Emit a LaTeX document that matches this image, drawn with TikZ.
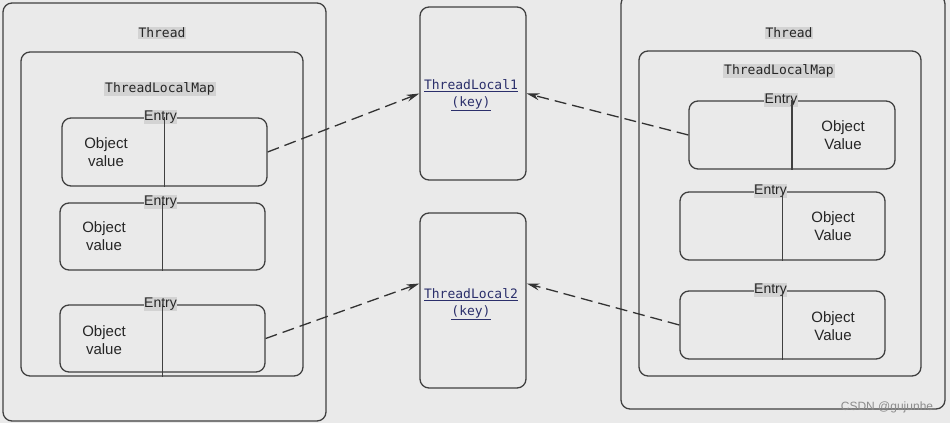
\documentclass[tikz,border=0pt]{standalone}
\usepackage{fontspec}
\setmainfont{Liberation Sans}
\setmonofont{DejaVu Sans Mono}
\definecolor{bggray}{HTML}{EAEAEA}
\definecolor{edgegray}{HTML}{404040}
\definecolor{markgray}{HTML}{D3D3D3}
\definecolor{keynavy}{HTML}{2B2F6B}
\usetikzlibrary{arrows.meta,positioning}

\begin{document}
\begin{tikzpicture}[x=1pt, y=-1pt,
  box/.style={rectangle, draw=edgegray, line width=1.3pt, rounded corners=9pt, inner sep=0pt},
  tag/.style={font=\ttfamily\fontsize{13}{15}\selectfont, fill=markgray, inner sep=1pt, text=black!85},
  entrytag/.style={font=\fontsize{14}{16}\selectfont, fill=markgray, inner sep=0.6pt, text=black!85},
  val/.style={font=\fontsize{15}{18}\selectfont, align=center, text=black!85},
  keytxt/.style={font=\ttfamily\fontsize{13}{17}\selectfont, align=center, text=keynavy},
  ref/.style={dash pattern=on 12pt off 6pt, line width=1.3pt, draw=black!80, -{Stealth[length=13pt,width=7pt]}}]
\fill[bggray] (0,0) rectangle (950,423);
\useasboundingbox (0,0) rectangle (950,423);

% left thread
\node[box, minimum width=323pt, minimum height=418pt] (thrL) at (164.5,212) {};
\node[tag] (thrLt) at (162,33) {Thread};
\node[box, minimum width=282pt, minimum height=324pt] (mapL) at (162,214) {};
\node[tag] (mapLt) at (160,89) {ThreadLocalMap};
\node[box, minimum width=205pt, minimum height=68pt] (entL1) at (164.5,152) {};
\node[box, minimum width=205pt, minimum height=67pt] (entL2) at (162.5,236.5) {};
\node[box, minimum width=205pt, minimum height=67pt] (entL3) at (162.5,338.5) {};
\node[entrytag, xshift=-4pt] (entL1t) at (entL1.north) {Entry};
\node[entrytag, xshift=-2pt] (entL2t) at (entL2.north) {Entry};
\node[entrytag, xshift=-2pt] (entL3t) at (entL3.north) {Entry};
\draw[edgegray, line width=1.3pt] (entL1.north) -- (entL1.south);
\draw[edgegray, line width=1.3pt] (entL2.north) -- (entL2.south);
\draw[edgegray, line width=1.3pt] (entL3.north) -- (mapL.south -| entL3.south);
\node[val] (valL1) at (106,152) {Object\\value};
\node[val] (valL2) at (104,236) {Object\\value};
\node[val] (valL3) at (104,340) {Object\\value};

% keys
\node[box, minimum width=106pt, minimum height=173pt] (tlA) at (473,93.5) {};
\node[box, minimum width=106pt, minimum height=175pt] (tlB) at (473,300.5) {};
\node[keytxt] (tlAt) at (471,95) {\underline{ThreadLocal1}\\\underline{(key)}};
\node[keytxt] (tlBt) at (471,304) {\underline{ThreadLocal2}\\\underline{(key)}};

% right thread
\node[box, minimum width=324pt, minimum height=414pt] (thrR) at (783,202) {};
\node[tag] (thrRt) at (789,33) {Thread};
\node[box, minimum width=282pt, minimum height=325pt] (mapR) at (780,213.5) {};
\node[tag] (mapRt) at (779,71) {ThreadLocalMap};
\node[box, minimum width=206pt, minimum height=68pt] (entR1) at (792,135) {};
\node[box, minimum width=205pt, minimum height=68pt] (entR2) at (782.5,226) {};
\node[box, minimum width=205pt, minimum height=68pt] (entR3) at (782.5,325) {};
\node[entrytag, xshift=-11pt] (entR1t) at (entR1.north) {Entry};
\node[entrytag, xshift=-12pt] (entR2t) at (entR2.north) {Entry};
\node[entrytag, xshift=-12pt] (entR3t) at (entR3.north) {Entry};
\draw[edgegray, line width=1.3pt] (entR1.north) -- (entR1.south);
\draw[edgegray, line width=1.3pt] (entR2.north) -- (entR2.south);
\draw[edgegray, line width=1.3pt] (entR3.north) -- (entR3.south);
\node[val] (valR1) at (843,135) {Object\\Value};
\node[val] (valR2) at (833,226) {Object\\Value};
\node[val] (valR3) at (833,326) {Object\\Value};

% references
\draw[ref] (entL1.east) -- (tlA.west);
\draw[ref] (entL3.east) -- ([yshift=17pt]tlB.west);
\draw[ref] (entR1.west) -- (tlA.east);
\draw[ref] (entR3.west) -- ([yshift=17pt]tlB.east);

\node[font=\fontsize{12}{14}\selectfont, text=black!45] (mark) at (887,407) {CSDN @gujunhe};
\end{tikzpicture}
\end{document}
